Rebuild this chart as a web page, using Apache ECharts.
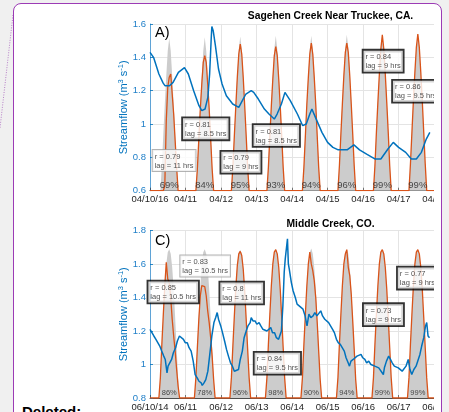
<!DOCTYPE html>
<html><head><meta charset="utf-8">
<script src="https://cdn.jsdelivr.net/npm/echarts@6/dist/echarts.min.js"></script>
<style>
html,body{margin:0;padding:0;width:449px;height:412px;overflow:hidden;background:#f0f0f0;font-family:"Liberation Sans",Arial,sans-serif;}
#frame{position:absolute;left:13px;top:3px;width:429px;height:440px;border:1.5px solid #9c3bb5;border-radius:8px;background:#fff;box-sizing:border-box;}
#clip{position:absolute;left:0;top:0;width:434px;height:412px;overflow:hidden;}
#chart{position:absolute;left:0;top:0;width:449px;height:412px;}
#deleted{position:absolute;left:22px;top:403px;font-weight:bold;font-size:15px;color:#000;line-height:17px;}
#link{position:absolute;left:0;top:0;}
</style></head>
<body>
<svg id="link" width="20" height="140"><line x1="13" y1="15" x2="0" y2="128" stroke="#b77fc8" stroke-width="1" stroke-dasharray="1,1.5"/></svg>
<div id="frame"></div>
<div id="deleted">Deleted:</div>
<div id="clip"><div id="chart"></div></div>
<script>
// ---------- data ----------
const xLabelsTop = ['04/10/16','04/11','04/12','04/13','04/14','04/15','04/16','04/17','04/18'];
const xLabelsBot = ['06/10/14','06/11','06/12','06/13','06/14','06/15','06/16','06/17','06/18'];
const titleTop = 'Sagehen Creek Near Truckee, CA.';
const titleBot = 'Middle Creek, CO.';

// hours of the day with daylight values (radiation, fraction of right axis)
const sunHoursTop = [7,8,9,10,11,12,13,14,15,16,17,18,19];
const sunHoursBot = [6,7,8,9,10,11,12,13,14,15,16,17,18,19,20];
const peakHour = 13;
const nightValue = 0;

const greyTop = [
 [0,.15,.34,.52,.69,.84,.915,.84,.69,.52,.34,.15,0],
 [0,.15,.34,.52,.69,.84,.92,.84,.69,.52,.34,.15,0],
 [0,.15,.34,.53,.70,.85,.925,.85,.70,.53,.34,.15,0],
 [0,.15,.35,.53,.70,.85,.93,.85,.70,.53,.35,.15,0],
 [0,.15,.35,.53,.70,.85,.93,.85,.70,.53,.35,.15,0],
 [0,.16,.35,.54,.71,.86,.935,.86,.71,.54,.35,.16,0],
 [0,.16,.35,.54,.71,.86,.94,.86,.71,.54,.35,.16,0],
 [0,.16,.36,.54,.71,.86,.945,.86,.71,.54,.36,.16,0]
];
const orangeTop = [
 [0,0,0,.03,.42,.62,.68,.70,.58,.46,.30,.14,0],
 [0,.13,.31,.49,.64,.77,.81,.77,.64,.49,.31,.13,0],
 [0,.14,.33,.51,.68,.82,.88,.82,.68,.51,.33,.14,0],
 [0,.14,.33,.51,.67,.81,.865,.81,.67,.51,.33,.14,0],
 [0,.14,.33,.52,.68,.82,.885,.82,.68,.52,.33,.14,0],
 [0,.15,.34,.52,.69,.83,.885,.83,.69,.52,.34,.15,0],
 [0,.15,.35,.53,.70,.85,.935,.85,.70,.53,.35,.15,0],
 [0,.16,.35,.54,.71,.86,.94,.86,.71,.54,.35,.16,0]
];
const greyBot = [
 [0,.12,.32,.50,.67,.80,.87,.888,.86,.78,.65,.48,.30,.12,0],
 [0,.12,.32,.50,.67,.80,.87,.888,.86,.78,.65,.48,.30,.12,0],
 [0,.12,.32,.50,.67,.80,.87,.885,.86,.78,.65,.48,.30,.12,0],
 [0,.12,.32,.50,.67,.80,.87,.888,.86,.78,.65,.48,.30,.12,0],
 [0,.12,.32,.50,.67,.80,.87,.892,.86,.78,.65,.48,.30,.12,0],
 [0,.12,.32,.50,.67,.80,.87,.888,.86,.78,.65,.48,.30,.12,0],
 [0,.12,.32,.50,.67,.80,.87,.888,.86,.78,.65,.48,.30,.12,0],
 [0,.12,.32,.50,.67,.80,.87,.885,.86,.78,.65,.48,.30,.12,0]
];
const orangeBot = [
 [0,.12,.32,.50,.67,.81,.71,.69,.60,.47,.37,.28,.17,.07,0],
 [0,.12,.30,.47,.61,.67,.675,.665,.61,.52,.45,.36,.25,.11,0],
 [0,.12,.31,.49,.66,.79,.86,.875,.85,.77,.64,.47,.29,.12,0],
 [0,.12,.32,.50,.67,.80,.87,.885,.86,.78,.65,.48,.30,.12,0],
 [0,.12,.32,.50,.67,.80,.87,.80,.76,.70,.60,.45,.28,.11,0],
 [0,.12,.32,.50,.67,.80,.86,.885,.78,.73,.62,.46,.29,.11,0],
 [0,.12,.32,.50,.67,.80,.87,.885,.86,.78,.65,.48,.30,.12,0],
 [0,.12,.32,.50,.67,.80,.87,.885,.86,.78,.65,.48,.30,.12,0]
];
const pctTop = ['69%','84%','95%','93%','94%','96%','99%','99%'];
const pctBot = ['86%','78%','96%','98%','90%','94%','99%','99%'];

// streamflow (hour since start, m3/s)
const flowTopHours = [0,2.4,6,8.9,10.1,13.2,15.6,19.2,23.3,25.9,29.5,33.1,35,37.2,39.1,40.3,41.3,41.8,42.7,44.2,46.3,48.7,51.6,55.9,60,62.4,64.8,68.4,70.1,73.2,77.3,80.4,84,85.9,88.8,91.2,92.4,94.8,99.6,103.2,105.6,108,109.4,111.8,116.2,120,123.6,127.2,133.2,137.8,141.6,146.4,152.2,156,160.8,164.4,168,172.8,176.6,180,183.4,186.7,189.1];
const flowTopValues = [1.43,1.40,1.30,1.245,1.23,1.23,1.25,1.31,1.338,1.30,1.20,1.11,1.08,1.09,1.16,1.30,1.50,1.585,1.56,1.47,1.33,1.24,1.17,1.12,1.10,1.14,1.18,1.20,1.19,1.15,1.09,1.06,1.03,1.06,1.12,1.19,1.19,1.14,1.06,0.99,1.00,1.06,1.09,1.04,0.95,0.89,0.86,0.845,0.845,0.875,0.845,0.82,0.79,0.79,0.85,0.89,0.86,0.83,0.79,0.79,0.83,0.91,0.95];
const flowBotHours = [0,1.3,2.6,4,5.3,6.6,7.9,9.3,10.3,11.5,12.2,13.2,14.6,15.8,17.3,18.5,19.9,21.1,22.6,23.8,25.2,26.4,27.8,29.2,30.5,31.9,33.1,34.6,35.3,36.5,37.7,39.1,40.4,41.8,43.2,44.4,45.4,46.3,47.8,49,50.4,51.7,53,54.4,55.7,57,58.3,59.8,61,62.4,63.6,65,66.2,67.7,68.4,69.6,71,72.2,73.7,74.9,76.3,77.5,79,80.2,81.6,82.8,84.2,85.4,86.9,88.1,88.8,89.8,90.7,91.4,92.2,92.9,93.5,94.1,95.5,96.7,98.2,99.4,100.8,102,103.4,104.8,106.1,107.4,108.7,110.2,111.4,112.8,114,115.4,116.6,118.1,119.3,120.7,121.9,123.4,124.6,126,127.2,128.6,129.8,131.3,132.5,133.9,134.8,135.8,137.3,138.5,139.9,141.1,142.6,143.8,145.2,146.4,147.8,149.3,150.5,151.9,153.1,154.6,155.8,157.7,158.4,159.8,161.3,162.5,163.7,165.1,166.3,167.8,169,170.4,171.6,173,174.5,175.7,176.9,178.3,179.8,181.3,182.4,183.6,185,186.2,187,187.9,188.9];
const flowBotValues = [1.21,1.19,1.17,1.15,1.14,1.11,1.08,1.05,1.03,0.95,0.99,1.00,1.03,1.07,1.10,1.14,1.17,1.16,1.15,1.13,1.13,1.10,1.08,1.02,0.94,0.92,0.90,0.89,0.875,0.89,0.91,0.96,1.06,1.17,1.25,1.28,1.31,1.27,1.23,1.19,1.14,1.09,1.05,1.01,0.99,0.96,0.955,0.97,1.03,1.08,1.16,1.20,1.23,1.25,1.28,1.26,1.26,1.24,1.25,1.23,1.21,1.21,1.20,1.20,1.22,1.19,1.19,1.16,1.15,1.14,1.20,1.35,1.55,1.63,1.64,1.75,1.60,1.57,1.49,1.44,1.40,1.36,1.35,1.34,1.33,1.29,1.23,1.30,1.28,1.29,1.31,1.29,1.30,1.32,1.29,1.27,1.26,1.25,1.24,1.21,1.19,1.15,1.13,1.12,1.11,1.08,1.04,1.01,0.99,1.02,1.03,1.04,1.05,1.04,1.06,1.04,1.03,1.01,1.02,1.00,1.00,0.99,0.99,0.98,0.98,0.94,0.98,1.02,1.05,1.03,1.01,0.99,0.99,0.98,0.97,0.96,0.97,0.99,1.03,0.97,0.94,0.97,0.99,1.03,1.06,1.11,1.16,1.23,1.25,1.17,1.16];

// annotation boxes: anchor (hour, streamflow) of the top-left corner, text, style
const notesTop = [
 {at:[1.8,0.844], lines:['r = 0.79','lag = 11 hrs'], strong:false},
 {at:[22.3,1.034], lines:['r = 0.81','lag = 8.5 hrs'], strong:true},
 {at:[48.2,0.834], lines:['r = 0.79','lag = 9 hrs'], strong:true},
 {at:[70.0,0.994], lines:['r = 0.81','lag = 8.5 hrs'], strong:true},
 {at:[144.3,1.44], lines:['r = 0.84','lag = 9 hrs'], strong:true},
 {at:[164.2,1.26], lines:['r = 0.86','lag = 9.5 hrs'], strong:true}
];
const notesBot = [
 {at:[-1.1,1.495], lines:['r = 0.85','lag = 10.5 hrs'], strong:true},
 {at:[20.5,1.65], lines:['r = 0.83','lag = 10.5 hrs'], strong:false},
 {at:[47.5,1.489], lines:['r = 0.8','lag = 11 hrs'], strong:true},
 {at:[70.7,1.07], lines:['r = 0.84','lag = 9.5 hrs'], strong:true},
 {at:[144.5,1.36], lines:['r = 0.73','lag = 9 hrs'], strong:true},
 {at:[167.5,1.578], lines:['r = 0.77','lag = 9 hrs'], strong:true}
];

// ---------- build ----------
const FONT = '"Liberation Sans", Arial, sans-serif';
const BLUE = '#0072BD', ORANGE = '#D95319', GREY = '#cccccc', TXT = '#262626';
const nDays = xLabelsTop.length - 1;

function daily(profiles, hours) {
  const out = [[0, nightValue]];
  profiles.forEach((vals, d) => vals.forEach((v, i) => out.push([d * 24 + hours[i], v])));
  out.push([nDays * 24, nightValue]);
  return out;
}
function pairs(hs, vs) { return hs.map((h, i) => [h, vs[i]]); }
function pctData(arr) { return arr.map((t, d) => ({value: [d * 24 + peakHour, 0.032], name: t})); }
function noteData(arr) {
  return arr.map(n => ({
    value: n.at,
    label: {
      show: true, position: [0, 0], formatter: n.lines.join('\n'),
      fontSize: 7.5, lineHeight: 9, color: TXT, fontFamily: FONT,
      backgroundColor: '#fff', padding: [2, 2, 1, 2],
      borderColor: n.strong ? '#000' : '#a0a0a0', borderWidth: n.strong ? 1.8 : 1
    }
  }));
}

const grids = [
  {left: 150, top: 24, width: 289.6, height: 166.7},
  {left: 150, top: 230.4, width: 289.6, height: 168.3}
];
function xAxis(gi, labels) {
  return {
    type: 'value', gridIndex: gi, min: 0, max: nDays * 24, interval: 24,
    axisLine: {show: true, lineStyle: {color: TXT, width: 0.8}},
    axisTick: {show: true, inside: true, length: 3, lineStyle: {color: TXT, width: 0.6}},
    axisLabel: {show: true, fontSize: 9.5, color: TXT, fontFamily: FONT, margin: 4,
      showMaxLabel: true, formatter: v => labels[Math.round(v / 24)]},
    splitLine: {show: true, lineStyle: {color: '#e4e4e4', width: 1}}
  };
}
function yLeft(gi, min, max) {
  return {
    type: 'value', gridIndex: gi, min: min, max: max, interval: 0.2, position: 'left',
    name: 'Streamflow (m{sup|3} s{sup|-1})', nameLocation: 'middle', nameGap: 19, nameMoveOverlap: false,
    nameTextStyle: {color: BLUE, fontSize: 11, fontFamily: FONT, lineHeight: 14,
      rich: {sup: {fontSize: 7.5, color: BLUE, fontFamily: FONT, verticalAlign: 'top', lineHeight: 8}}},
    axisLine: {show: true, lineStyle: {color: '#5fa3d6', width: 1}},
    axisTick: {show: true, inside: true, length: 3, lineStyle: {color: BLUE, width: 0.8}},
    axisLabel: {fontSize: 9.5, color: '#1f7fc8', fontFamily: FONT, margin: 4},
    splitLine: {show: true, lineStyle: {color: '#e4e4e4', width: 1}}
  };
}
function yRight(gi) {
  return {type: 'value', gridIndex: gi, min: 0, max: 1, position: 'right', show: false, splitLine: {show: false}};
}

const series = [];
function panel(gi, grey, orange, hours, fh, fv, pct, pctSize, notes) {
  const xi = gi, yl = gi * 2, yr = gi * 2 + 1;
  series.push({type: 'line', xAxisIndex: xi, yAxisIndex: yr, data: daily(grey, hours), showSymbol: false,
    lineStyle: {width: 0}, areaStyle: {color: GREY, opacity: 1}, z: 1, silent: true});
  series.push({type: 'line', xAxisIndex: xi, yAxisIndex: yr, data: daily(orange, hours), showSymbol: false,
    lineStyle: {color: ORANGE, width: 1.3}, z: 2, silent: true});
  series.push({type: 'line', xAxisIndex: xi, yAxisIndex: yl, data: pairs(fh, fv), showSymbol: false,
    lineStyle: {color: BLUE, width: 1.5}, z: 3, silent: true});
  series.push({type: 'scatter', xAxisIndex: xi, yAxisIndex: yr, data: pctData(pct), symbolSize: 0, z: 4, silent: true,
    label: {show: true, position: 'inside', formatter: p => p.name, fontSize: pctSize, color: TXT, fontFamily: FONT}});
  series.push({type: 'scatter', xAxisIndex: xi, yAxisIndex: yl, data: noteData(notes), symbolSize: 0, z: 6, clip: false, silent: true});
}
panel(0, greyTop, orangeTop, sunHoursTop, flowTopHours, flowTopValues, pctTop, 9.5, notesTop);
panel(1, greyBot, orangeBot, sunHoursBot, flowBotHours, flowBotValues, pctBot, 7.5, notesBot);

const chart = echarts.init(document.getElementById('chart'), null, {renderer: 'canvas'});
chart.setOption({
  animation: false,
  grid: grids,
  xAxis: [xAxis(0, xLabelsTop), xAxis(1, xLabelsBot)],
  yAxis: [yLeft(0, 0.6, 1.6), yRight(0), yLeft(1, 0.8, 1.8), yRight(1)],
  series: series,
  graphic: [
    {type: 'text', x: 330.5, y: 15.7, z: 10, style: {text: titleTop, align: 'center', verticalAlign: 'middle', font: 'bold 10.3px ' + FONT, fill: '#000'}},
    {type: 'text', x: 330.5, y: 224, z: 10, style: {text: titleBot, align: 'center', verticalAlign: 'middle', font: 'bold 10.3px ' + FONT, fill: '#000'}},
    {type: 'text', x: 155, y: 33, z: 10, style: {text: 'A)', align: 'left', verticalAlign: 'middle', font: '14.5px ' + FONT, fill: '#000'}},
    {type: 'text', x: 155, y: 240.5, z: 10, style: {text: 'C)', align: 'left', verticalAlign: 'middle', font: '14.5px ' + FONT, fill: '#000'}}
  ]
});
</script>
</body></html>
